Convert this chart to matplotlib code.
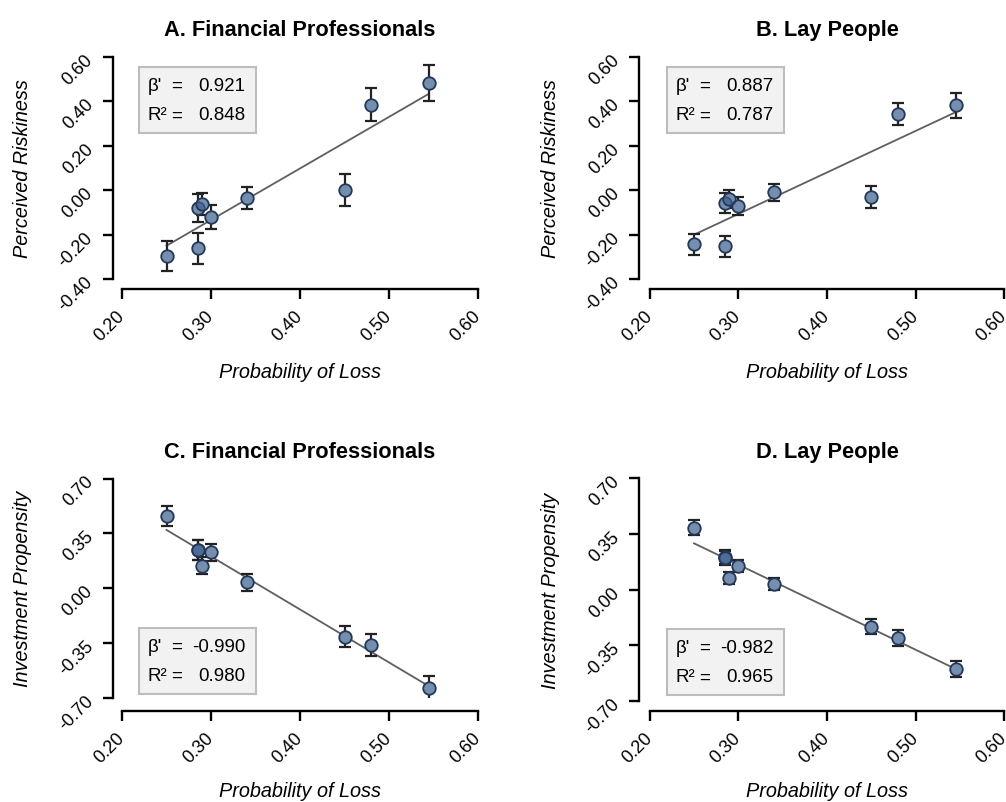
import matplotlib
matplotlib.use("Agg")
import matplotlib.pyplot as plt
import numpy as np

plt.rcParams['font.family'] = ['Liberation Sans', 'DejaVu Sans']

# probability of loss (same nine options in every panel)
prob_loss = np.array([0.25, 0.285, 0.285, 0.29, 0.30, 0.34, 0.45, 0.48, 0.545])

# A. perceived riskiness, financial professionals
risk_pro = [-0.298, -0.261, -0.081, -0.061, -0.122, -0.037, 0.000, 0.384, 0.483]
risk_pro_err = [0.067, 0.070, 0.063, 0.050, 0.055, 0.050, 0.073, 0.075, 0.081]
# B. perceived riskiness, lay people
risk_lay = [-0.244, -0.253, -0.060, -0.040, -0.070, -0.010, -0.031, 0.341, 0.381]
risk_lay_err = [0.047, 0.047, 0.045, 0.040, 0.040, 0.038, 0.050, 0.050, 0.055]
# C. investment propensity, financial professionals
inv_pro = [0.461, 0.245, 0.240, 0.142, 0.227, 0.037, -0.312, -0.363, -0.640]
inv_pro_err = [0.065, 0.064, 0.064, 0.055, 0.054, 0.053, 0.068, 0.069, 0.080]
# D. investment propensity, lay people
inv_lay = [0.390, 0.205, 0.200, 0.073, 0.147, 0.034, -0.233, -0.304, -0.501]
inv_lay_err = [0.045, 0.045, 0.045, 0.040, 0.037, 0.038, 0.048, 0.050, 0.051]

titles = ['A. Financial Professionals', 'B. Lay People',
          'C. Financial Professionals', 'D. Lay People']
ylabels = ['Perceived Riskiness', 'Perceived Riskiness',
           'Investment Propensity', 'Investment Propensity']
betas = ['0.921', '0.887', '-0.990', '-0.982']
r2s = ['0.848', '0.787', '0.980', '0.965']

xticks = [0.20, 0.30, 0.40, 0.50, 0.60]
yticks_risk = [-0.40, -0.20, 0.00, 0.20, 0.40, 0.60]
yticks_inv = [-0.70, -0.35, 0.00, 0.35, 0.70]

W, H = 1006, 803
fig = plt.figure(figsize=(W / 100, H / 100), dpi=100)

# pixel boxes: x0, x1, ytop, ybot, x-spine offset, y-spine offset,
# stats box top/bottom (axes frac), x label baseline (px)
boxes = [
    (122, 478, 57.7, 280, 10, 9.3, 0.952, 0.657, 378),
    (649.7, 1004.3, 57.7, 280, 10, 10.4, 0.952, 0.657, 378),
    (122, 478, 479.5, 698.5, 13.8, 9.3, 0.319, 0.018, 797),
    (649.7, 1004.3, 479.3, 702, 10.3, 10.4, 0.323, 0.027, 797),
]
series = [(risk_pro, risk_pro_err), (risk_lay, risk_lay_err),
          (inv_pro, inv_pro_err), (inv_lay, inv_lay_err)]

face = (60 / 255, 94 / 255, 140 / 255, 0.7)
edge = '#22385A'
pt = 72 / 100

for i in range(4):
    x0, x1, yt, yb, offx, offy, btop, bbot, xlab_y = boxes[i]
    ax = fig.add_axes([x0 / W, 1 - yb / H, (x1 - x0) / W, (yb - yt) / H])
    y, err = series[i]
    yt_list = yticks_risk if i < 2 else yticks_inv

    ax.set_xlim(0.20, 0.60)
    ax.set_ylim(yt_list[0], yt_list[-1])

    # regression line
    k, b = np.polyfit(prob_loss, y, 1)
    xl = np.array([prob_loss.min(), prob_loss.max()])
    ax.plot(xl, k * xl + b, color='#5f5f5f', lw=1.3, zorder=1)

    ax.errorbar(prob_loss, y, yerr=err, fmt='none', ecolor='#222222',
                elinewidth=1.6, capsize=4.6, capthick=1.6, zorder=2)
    # white underlay hides the error bar behind the translucent marker
    ax.plot(prob_loss, y, 'o', ms=9, mfc='white', mec='none',
            linestyle='none', zorder=2.5)
    ax.plot(prob_loss, y, 'o', ms=9, mfc=face, mec=edge, mew=1.3,
            linestyle='none', zorder=3)

    for side in ['top', 'right']:
        ax.spines[side].set_visible(False)
    ax.spines['left'].set_position(('outward', offy * pt))
    ax.spines['bottom'].set_position(('outward', offx * pt))
    ax.spines['left'].set_bounds(yt_list[0], yt_list[-1])
    ax.spines['bottom'].set_bounds(0.20, 0.60)
    ax.spines['left'].set_linewidth(1.7)
    ax.spines['bottom'].set_linewidth(1.7)

    ax.set_xticks(xticks)
    ax.set_xticklabels(['%.2f' % v for v in xticks], rotation=45, ha='right',
                       va='center', rotation_mode='anchor')
    ax.set_yticks(yt_list)
    ax.set_yticklabels(['%.2f' % v for v in yt_list], rotation=45, ha='right',
                       va='center', rotation_mode='anchor')
    ax.tick_params(axis='both', direction='out', length=7, width=1.7,
                   labelsize=13, colors='black')
    ax.tick_params(axis='x', pad=10)
    ax.tick_params(axis='y', pad=9)

    ax.set_title(titles[i], fontsize=15.7, fontweight='bold', pad=15.6)
    axh = yb - yt
    axw = x1 - x0
    ax.text(0.5, -(xlab_y - yb) / axh, 'Probability of Loss',
            transform=ax.transAxes, ha='center', va='baseline',
            fontsize=14.3, style='italic')
    ax.text(-94 / axw, 0.5, ylabels[i], transform=ax.transAxes, rotation=90,
            rotation_mode='anchor', ha='center', va='baseline',
            fontsize=14.3, style='italic')

    # stats box
    bx0 = 17.3 / axw
    bw = 116.7 / axw
    ins = ax.inset_axes([bx0, bbot, bw, btop - bbot])
    ins.set_facecolor('#F2F2F2')
    ins.set_xticks([])
    ins.set_yticks([])
    for s in ins.spines.values():
        s.set_color('#BDBDBD')
        s.set_linewidth(1.5)
    for yy, lab, val in [(0.72, "β'", betas[i]), (0.275, 'R²', r2s[i])]:
        ins.text(0.072, yy, lab, ha='left', va='center', fontsize=13.5,
                 transform=ins.transAxes)
        ins.text(0.32, yy, '=', ha='center', va='center', fontsize=13.5,
                 transform=ins.transAxes)
        ins.text(0.91, yy, val, ha='right', va='center', fontsize=13.5,
                 transform=ins.transAxes)

fig.savefig('out.png', dpi=100)
